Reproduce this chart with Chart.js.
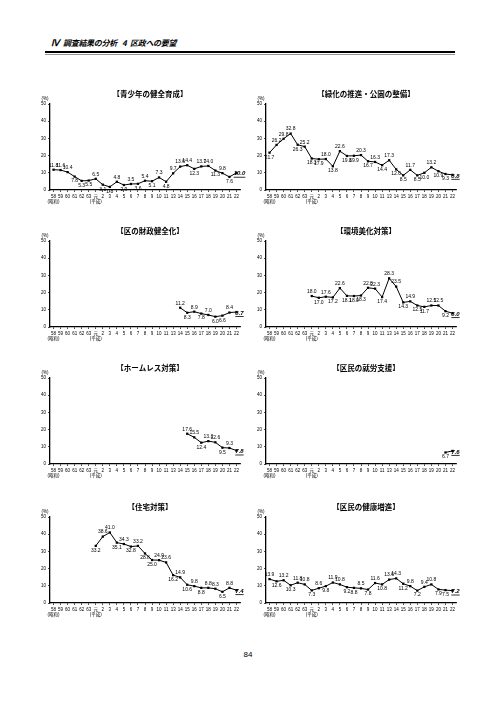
<!DOCTYPE html>
<html><head><meta charset="utf-8">
<script src="https://cdn.jsdelivr.net/npm/chart.js@4.4.0/dist/chart.umd.min.js"></script>
<style>
html,body{margin:0;padding:0;background:#fff;color:#000;}
body{width:496px;height:702px;position:relative;overflow:hidden;font-family:"Noto Sans CJK JP",sans-serif;}
canvas{position:absolute;}
.h{position:absolute;top:37px;font-size:8px;line-height:12px;font-weight:bold;font-style:italic;white-space:nowrap;color:#000;}
#l1{position:absolute;left:45px;top:51px;width:410px;height:2px;background:#000;}
#l2{position:absolute;left:45px;top:54px;width:410px;height:1px;background:#999;}
#pg{position:absolute;left:236px;top:650px;width:24px;text-align:center;font-size:8px;line-height:10px;color:#000;font-family:"Liberation Sans",sans-serif;}
</style></head><body>
<span class="h" style="left:51px;font-family:'Liberation Serif',serif;font-size:9px;">Ⅳ</span>
<span class="h" style="left:63px;letter-spacing:-0.3px;">調査結果の分析</span>
<span class="h" style="left:122px;">4</span>
<span class="h" style="left:130px;letter-spacing:-0.3px;">区政への要望</span>
<div id="l1"></div><div id="l2"></div>
<div id="pg">84</div>
<script>
const categories = ['58','59','60','61','62','63','元','2','3','4','5','6','7','8','9','10','11','13','14','15','16','17','18','19','20','21','22'];
const eraNotes   = ['(昭和)','','','','','','(平成)','','','','','','','','','','','','','','','','','','','',''];
const yTicks = [0,10,20,30,40,50];

const titles = ['【青少年の健全育成】','【緑化の推進・公園の整備】','【区の財政健全化】','【環境美化対策】','【ホームレス対策】','【区民の就労支援】','【住宅対策】','【区民の健康増進】'];

const youth      = [11.8,11.6,10.4,7.8,5.3,5.5,6.5,3.1,1.8,4.8,2.9,3.5,3.6,5.4,5.1,7.3,4.8,9.7,13.6,14.4,12.3,13.7,14.0,11.3,9.8,7.6,10.0];
const greenery   = [21.7,26.2,29.8,32.8,26.3,25.2,18.3,17.9,18.0,13.8,22.6,19.8,19.9,20.3,16.7,16.3,14.4,17.3,12.0,8.5,11.7,8.5,10.0,13.2,10.9,9.3,8.8];
const finance    = [null,null,null,null,null,null,null,null,null,null,null,null,null,null,null,null,null,null,11.2,8.3,8.9,7.8,7.0,6.0,6.6,8.4,8.7];
const environment= [null,null,null,null,null,null,18.0,17.0,17.6,17.2,22.6,18.1,18.0,18.3,22.8,22.3,17.4,28.3,23.5,14.3,14.9,12.5,11.7,12.5,12.5,9.2,8.0];
const homeless   = [null,null,null,null,null,null,null,null,null,null,null,null,null,null,null,null,null,null,null,17.6,15.5,12.4,13.3,12.6,9.5,9.3,7.8];
const employment = [null,null,null,null,null,null,null,null,null,null,null,null,null,null,null,null,null,null,null,null,null,null,null,null,null,6.7,7.6];
const housing    = [null,null,null,null,null,null,33.2,38.6,41.0,35.1,34.3,32.8,33.2,28.8,25.0,24.9,23.6,16.2,14.9,10.6,9.8,8.8,8.8,8.3,6.5,8.8,7.4];
const health     = [13.9,12.6,13.2,10.3,11.8,10.8,7.3,8.6,9.8,11.9,10.8,9.2,8.8,8.5,7.8,11.6,10.8,13.6,14.3,11.2,9.8,7.2,9.4,10.8,7.9,7.5,7.2];

const series = [youth, greenery, finance, environment, homeless, employment, housing, health];

// layout (chart-area positions)
const colLeft = [50, 266];
const rowTop = [104, 241, 378, 517];
const AREA_W = 190, AREA_H = 86, YW = 12, PT = 18, PR = 14, XH = 18;

const xLabels = categories.map((c,i)=> eraNotes[i] ? [c, eraNotes[i]] : c);

const panelText = {
  id:'panelText',
  afterDatasetsDraw(chart, args, opts){
    const ctx = chart.ctx, a = chart.chartArea;
    ctx.save();
    ctx.fillStyle = '#000';
    ctx.font = 'bold 7.5px "Noto Sans CJK JP"';
    ctx.textAlign = 'center'; ctx.textBaseline = 'middle';
    ctx.fillText(opts.title, (a.left + a.right)/2 + 5, a.top - 10);
    ctx.font = '4.5px "Liberation Sans"';
    ctx.fillText('(%)', a.left - 5, a.top - 5);
    const meta = chart.getDatasetMeta(0);
    const data = chart.data.datasets[0].data;
    const idx = [];
    data.forEach((v,i)=>{ if(v!=null) idx.push(i); });
    const last = idx[idx.length-1];
    idx.forEach((i,k)=>{
      const v = data[i], p = meta.data[i];
      const txt = v.toFixed(1);
      if(i === last){
        ctx.font = 'italic bold 6px "Liberation Sans"';
        ctx.textAlign = 'center'; ctx.textBaseline = 'middle';
        const x = p.x + 3, y = p.y + 1;
        ctx.fillText(txt, x, y);
        const w = ctx.measureText(txt).width;
        ctx.fillRect(x - w/2, y + 3, w, 0.8);
        return;
      }
      const prev = k>0 ? data[idx[k-1]] : null;
      const next = k<idx.length-1 ? data[idx[k+1]] : null;
      let ref;
      if(prev!=null && next!=null) ref = (prev+next)/2; else ref = (prev!=null?prev:next);
      const above = ref==null || v >= ref;
      ctx.font = '5px "Liberation Sans"';
      ctx.textAlign = 'center';
      ctx.textBaseline = above ? 'bottom' : 'top';
      ctx.fillText(txt, p.x, above ? p.y - 2 : p.y + 2);
    });
    ctx.restore();
  }
};

series.forEach((vals, n)=>{
  const col = n % 2, row = Math.floor(n/2);
  const cv = document.createElement('canvas');
  const W = YW + AREA_W + PR, H = PT + AREA_H + XH;
  cv.width = W; cv.height = H;
  cv.style.left = (colLeft[col] - YW) + 'px';
  cv.style.top = (rowTop[row] - PT) + 'px';
  cv.style.width = W + 'px'; cv.style.height = H + 'px';
  document.body.appendChild(cv);
  new Chart(cv, {
    type:'line',
    data:{ labels: xLabels, datasets:[{ data: vals, borderColor:'#000', borderWidth:1, pointStyle:'rect', pointRadius:1.6, pointBackgroundColor:'#000', pointBorderColor:'#000', pointBorderWidth:0, tension:0, spanGaps:false, clip:false }]},
    options:{
      responsive:false, animation:false, devicePixelRatio:1,
      layout:{ padding:{ top:PT, right:PR, left:0, bottom:0 } },
      plugins:{ legend:{display:false}, tooltip:{enabled:false}, title:{display:false}, panelText:{ title: titles[n] } },
      scales:{
        x:{ type:'category', offset:true,
            grid:{ display:true, drawOnChartArea:false, drawTicks:true, tickLength:2, color:'#000', lineWidth:0.7 },
            border:{ display:true, color:'#000', width:1.3 },
            ticks:{ autoSkip:false, maxRotation:0, minRotation:0, padding:2, color:'#000', font:{ size:4.5, family:'"Liberation Sans", "Noto Sans CJK JP"' } },
            afterFit(s){ s.height = XH; } },
        y:{ min:0, max:50,
            afterBuildTicks(s){ s.ticks = yTicks.map(v=>({value:v})); },
            grid:{ display:true, drawOnChartArea:false, drawTicks:true, tickLength:2, color:'#000', lineWidth:0.7 },
            border:{ display:true, color:'#000', width:1.3 },
            ticks:{ padding:2, color:'#000', font:{ size:4.5, family:'"Liberation Sans"' } },
            afterFit(s){ s.width = YW; } }
      }
    },
    plugins:[panelText]
  });
});
</script>
</body></html>
